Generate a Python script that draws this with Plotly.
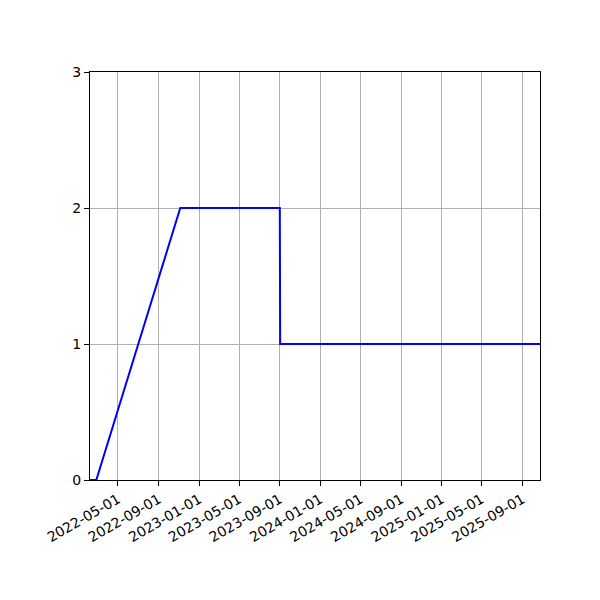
import plotly.graph_objects as go

# Dados
datas = ['2022-02-06', '2022-02-25', '2022-11-05', '2023-09-01', '2023-09-02', '2025-10-24']
valores = [0, 0, 2, 2, 1, 1]

ticks_x = ['2022-05-01', '2022-09-01', '2023-01-01', '2023-05-01', '2023-09-01',
           '2024-01-01', '2024-05-01', '2024-09-01', '2025-01-01', '2025-05-01',
           '2025-09-01']
ticks_y = [0, 1, 2, 3]

fig = go.Figure()
fig.add_trace(go.Scatter(
    x=datas, y=valores, mode='lines',
    line=dict(color='#0000ff', width=2),
    showlegend=False
))

eixo = dict(
    showline=True, linecolor='black', linewidth=1, mirror=True,
    ticks='outside', ticklen=5, tickcolor='black',
    showgrid=True, gridcolor='#b0b0b0', gridwidth=1,
    zeroline=False,
)
fig.update_xaxes(
    range=[datas[0], datas[-1]],
    tickvals=ticks_x, ticktext=ticks_x, tickangle=-30,
    **eixo
)
fig.update_yaxes(
    range=[0, 3], tickvals=ticks_y,
    **eixo
)
# a página tem 8px de margem no body, por isso o deslocamento
fig.update_layout(
    width=600, height=600,
    margin=dict(l=82, r=68, t=64, b=128),
    plot_bgcolor='white', paper_bgcolor='white',
    font=dict(family='DejaVu Sans', size=14, color='black'),
)
fig.write_html('out.html')
